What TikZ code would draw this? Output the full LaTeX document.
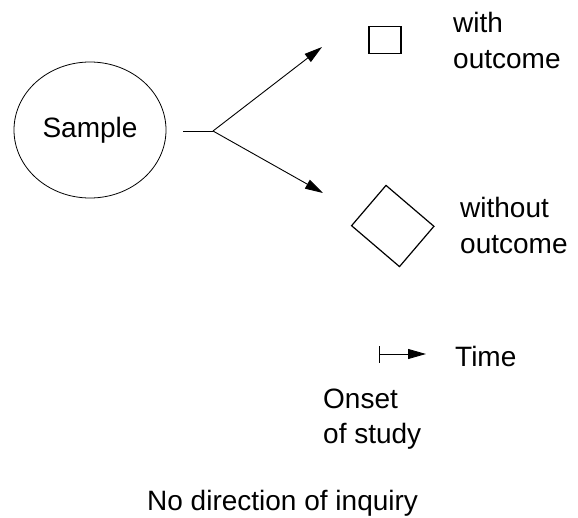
\documentclass[tikz,border=0pt]{standalone}
\usepackage{fontspec}
\setmainfont{Liberation Sans}
\usetikzlibrary{arrows.meta,shapes.geometric}
\tikzset{
  lbl/.style={anchor=base west,inner sep=0pt,font=\fontsize{28}{34}\selectfont},
  conn/.style={line width=0.9pt},
  tip/.style={-{Triangle[length=18pt,width=10pt]}},
}
\begin{document}
\begin{tikzpicture}[x=1pt,y=-1pt]
\useasboundingbox (0,0) rectangle (578,517);
% sample ellipse
\node[ellipse,draw,line width=0.8pt,minimum width=152pt,minimum height=136pt,inner sep=0pt,
  font=\fontsize{28}{34}\selectfont] (sample) at (90,130) {Sample};
% outcome shapes
\node[rectangle,draw,line width=1.2pt,minimum width=32pt,minimum height=27pt,inner sep=0pt] (withbox) at (385,40) {};
\node[rectangle,draw,line width=1.2pt,minimum width=63pt,minimum height=53pt,inner sep=0pt,rotate=-40.5] (withoutbox) at (392.75,226) {};
% connectors
\coordinate (s0) at (183,131);
\coordinate (br) at (213,131);
\coordinate (t1) at (322,47);
\coordinate (t2) at (323,193);
\draw[conn] (s0) -- (br);
\draw[conn,tip] (br) -- (t1);
\draw[conn,tip] (br) -- (t2);
% time arrow
\coordinate (time0) at (379,354);
\coordinate (time1) at (426,354);
\draw[conn,{Bar[width=17pt]}-{Triangle[length=18pt,width=10pt]}] (time0) -- (time1);
% labels
\node[lbl] (with1) at (453,32) {with};
\node[lbl] (with2) at (453,68) {outcome};
\node[lbl] (wo1) at (460,217) {without};
\node[lbl] (wo2) at (460,253) {outcome};
\node[lbl] (time) at (455,366) {Time};
\node[lbl] (onset1) at (323,408) {Onset};
\node[lbl] (onset2) at (323,443) {of study};
\node[lbl] (caption) at (147,510) {No direction of inquiry};
\end{tikzpicture}
\end{document}
